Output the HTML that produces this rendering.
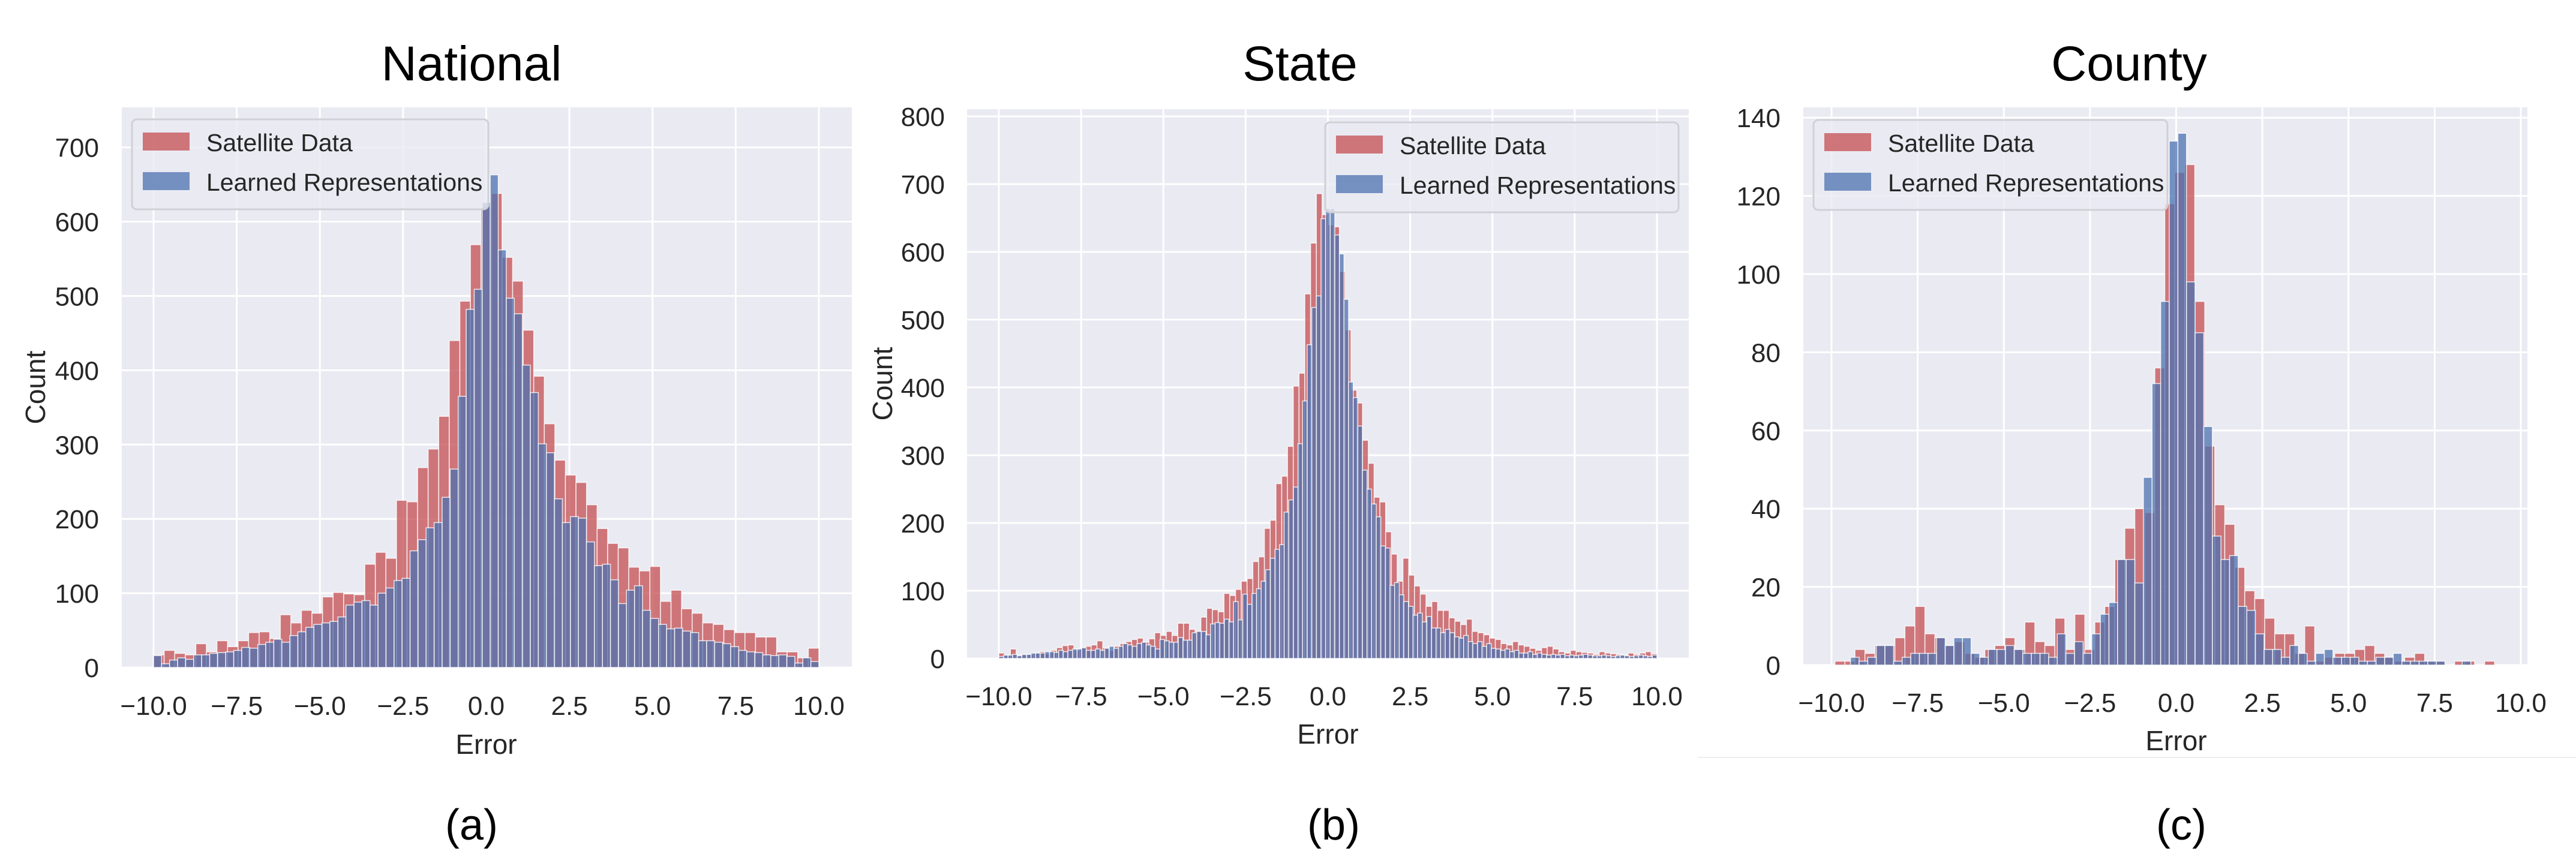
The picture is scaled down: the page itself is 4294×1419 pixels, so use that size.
<!DOCTYPE html>
<html><head><meta charset="utf-8"><style>
html,body{margin:0;padding:0;background:#fff;}
svg{display:block;font-family:"Liberation Sans",Arial,sans-serif;}
</style></head><body>
<svg id="fig" width="4294" height="1419" viewBox="0 0 4294 1419" xmlns="http://www.w3.org/2000/svg">
<line x1="2830" y1="1263" x2="4294" y2="1263" stroke="#eeeeee" stroke-width="2"/>
</svg>
<script>
// ---- National ----
const natSat = [17,23,19,17,32,21,36,28,36,47,48,39,71,60,77,73,95,101,99,98,139,155,147,225,223,269,294,338,440,493,569,620,638,552,520,454,392,328,279,259,249,219,187,167,161,135,130,136,89,104,79,73,60,58,51,47,47,41,41,21,21,13,26];
const natRep = [16,5,10,13,11,17,17,19,20,21,23,27,26,31,34,38,34,43,48,54,58,60,62,68,84,88,90,84,100,107,117,120,157,172,188,195,229,267,365,482,509,626,663,562,497,476,407,370,301,289,227,195,203,201,169,137,139,118,86,104,110,77,66,58,52,53,49,47,36,36,34,32,28,23,21,20,17,16,17,15,6,13,8];
// ---- State ----
const stSat = [8,4,14,5,5,6,8,10,7,12,16,19,20,12,15,18,20,26,16,12,18,22,25,28,30,24,29,38,34,40,34,52,52,43,40,61,74,72,69,96,93,102,114,118,143,150,192,204,258,269,313,402,421,538,613,686,655,640,637,571,485,396,377,322,288,238,231,187,154,114,148,123,107,95,77,84,71,71,60,55,50,58,40,38,35,30,28,22,20,25,20,18,15,12,16,18,14,10,8,12,10,9,8,6,10,8,7,6,5,8,6,8,10,7];
const stRep = [3,5,5,6,4,6,6,8,8,8,10,10,9,12,10,12,14,14,16,12,12,14,12,15,18,15,18,22,20,18,22,24,20,18,14,28,26,24,24,31,27,27,38,40,40,35,51,53,52,58,54,84,57,95,80,96,103,114,131,148,161,168,216,234,253,317,380,463,518,535,649,664,664,625,597,530,408,385,343,278,250,228,209,166,163,108,112,94,84,77,64,67,54,62,45,45,38,43,38,32,30,34,25,22,25,18,22,15,14,12,14,10,12,8,8,10,6,8,6,5,6,5,6,4,5,4,5,6,5,4,4,5,4,3,4,5,4,3,4,5,4,3,5];
// ---- County ----
const coSat = [1,1,4,3,5,5,7,10,15,8,7,5,6,3,2,4,5,7,4,11,6,5,12,4,13,4,11,15,27,35,40,39,76,118,126,128,93,56,41,36,25,19,17,12,8,8,3,10,1,2,3,3,4,5,3,2,1,2,3,1,1,0,1,1,0,1];
const coRep = [2,1,2,5,5,1,2,3,3,3,7,5,7,7,3,2,4,4,5,4,3,3,3,2,8,3,6,3,8,13,16,27,27,21,48,72,93,134,136,98,85,61,33,27,28,15,14,8,4,4,2,5,3,1,3,4,2,2,2,1,1,2,2,3,1,1,1,1,1,0,0,1];
const xTicks = [-10,-7.5,-5,-2.5,0,2.5,5,7.5,10];
const xTickLabels = ["\u221210.0","\u22127.5","\u22125.0","\u22122.5","0.0","2.5","5.0","7.5","10.0"];
const natYTicks = [0,100,200,300,400,500,600,700];
const stYTicks = [0,100,200,300,400,500,600,700,800];
const coYTicks = [0,20,40,60,80,100,120,140];

const NS="http://www.w3.org/2000/svg";
const svg=document.getElementById('fig');
function mk(tag,attrs,parent,text){const e=document.createElementNS(NS,tag);for(const k in attrs)e.setAttribute(k,attrs[k]);if(text!==undefined)e.textContent=text;(parent||svg).appendChild(e);return e;}

function panel(cfg){
  const g=mk('g',{});
  
  
  const bg=mk('rect',{x:cfg.px0,y:cfg.py0,width:cfg.px1-cfg.px0,height:cfg.py1-cfg.py0,fill:'#EAEAF2'},g);
  
  
  const sx=v=>cfg.x0+(v+10)/20*(cfg.x1-cfg.x0);
  const sy=v=>cfg.y0-v*cfg.ppu;
  cfg.yTicks.forEach(t=>{
    const l=mk('line',{x1:cfg.px0,x2:cfg.px1,y1:sy(t),y2:sy(t),stroke:'#fff','stroke-width':3},g);
    
    
    const tx=mk('text',{x:cfg.ytx,y:sy(t)+16,'text-anchor':'end','font-size':44,fill:'#262626'},g,String(t));
    
    
  });
  xTicks.forEach((t,i)=>{
    const l=mk('line',{x1:sx(t),x2:sx(t),y1:cfg.py0,y2:cfg.py1,stroke:'#fff','stroke-width':3},g);
    
    
    const tx=mk('text',{x:sx(t),y:cfg.xty,'text-anchor':'middle','font-size':44,fill:'#262626'},g,xTickLabels[i]);
    
    
  });
  function bars(arr,start,w,color,nm){
    arr.forEach((v,i)=>{
      const a=start+i*w;
      const r=mk('rect',{x:sx(a),y:sy(v),width:sx(a+w)-sx(a),height:sy(0)-sy(v),fill:color,'fill-opacity':0.75,stroke:'#fff','stroke-width':1.5,'stroke-opacity':0.8},g);
      
      
    });
  }
  bars(cfg.sat,cfg.satStart,cfg.satW||20/cfg.sat.length,'#C44E52','bar-satellite');
  bars(cfg.rep,cfg.repStart,cfg.repW||20/cfg.rep.length,'#4C72B0','bar-learned');
  const t=mk('text',{x:cfg.tx,y:134,'text-anchor':'middle','font-size':82,fill:'#000'},g,cfg.title);
  
  
  const xl=mk('text',{x:(cfg.x0+cfg.x1)/2,y:cfg.xly,'text-anchor':'middle','font-size':46,fill:'#262626'},g,'Error');
  
  
  if(cfg.ylx){
    const yl=mk('text',{x:cfg.ylx,y:(cfg.py0+cfg.py1)/2,'text-anchor':'middle','font-size':46,fill:'#262626',transform:`rotate(-90 ${cfg.ylx} ${(cfg.py0+cfg.py1)/2})`},g,'Count');
    
    
  }
  const lg=mk('g',{},g);
  
  
  mk('rect',{x:cfg.lx,y:cfg.ly,width:cfg.lw,height:150,rx:8,fill:'#EAEAF2','fill-opacity':0.8,stroke:'#d0d0d6','stroke-width':3},lg);
  const p1=mk('rect',{x:cfg.lx+18,y:cfg.ly+22,width:78,height:30,fill:'#C44E52','fill-opacity':0.75},lg);
  
  
  const t1=mk('text',{x:cfg.lx+124,y:cfg.ly+53,'font-size':41,fill:'#262626'},lg,'Satellite Data');
  
  
  const p2=mk('rect',{x:cfg.lx+18,y:cfg.ly+88,width:78,height:30,fill:'#4C72B0','fill-opacity':0.75},lg);
  
  
  const t2=mk('text',{x:cfg.lx+124,y:cfg.ly+119,'font-size':41,fill:'#262626'},lg,'Learned Representations');
  
  
  const c=mk('text',{x:cfg.cx,y:1400,'text-anchor':'middle','font-size':72,fill:'#000'},g,cfg.cap);
  
  
}
panel({name:'national',title:'National',cap:'(a)',px0:203,px1:1420,py0:179,py1:1113,x0:256,x1:1365,y0:1113,ppu:1.239,
  yTicks:natYTicks,sat:natSat,rep:natRep,satStart:-10,repStart:-10,ytx:165,xty:1192,xly:1257,ylx:75,tx:786,cx:786,lx:220,ly:199,lw:594});
panel({name:'state',title:'State',cap:'(b)',px0:1612,px1:2815,py0:182,py1:1098,x0:1665,x1:2762,y0:1098,ppu:1.13,
  yTicks:stYTicks,sat:stSat,rep:stRep,satStart:-10,repStart:-10,ytx:1575,xty:1176,xly:1240,ylx:1487,tx:2167,cx:2223,lx:2209,ly:204,lw:589});
panel({name:'county',title:'County',cap:'(c)',px0:3006,px1:4213,py0:179,py1:1109,x0:3053,x1:4202,y0:1109,ppu:6.52,
  yTicks:coYTicks,sat:coSat,rep:coRep,satStart:-9.9,satW:0.29,repStart:-9.45,repW:0.25,ytx:2968,xty:1187,xly:1251,ylx:0,tx:3549,cx:3636,lx:3023,ly:200,lw:590});
</script>
</body></html>
